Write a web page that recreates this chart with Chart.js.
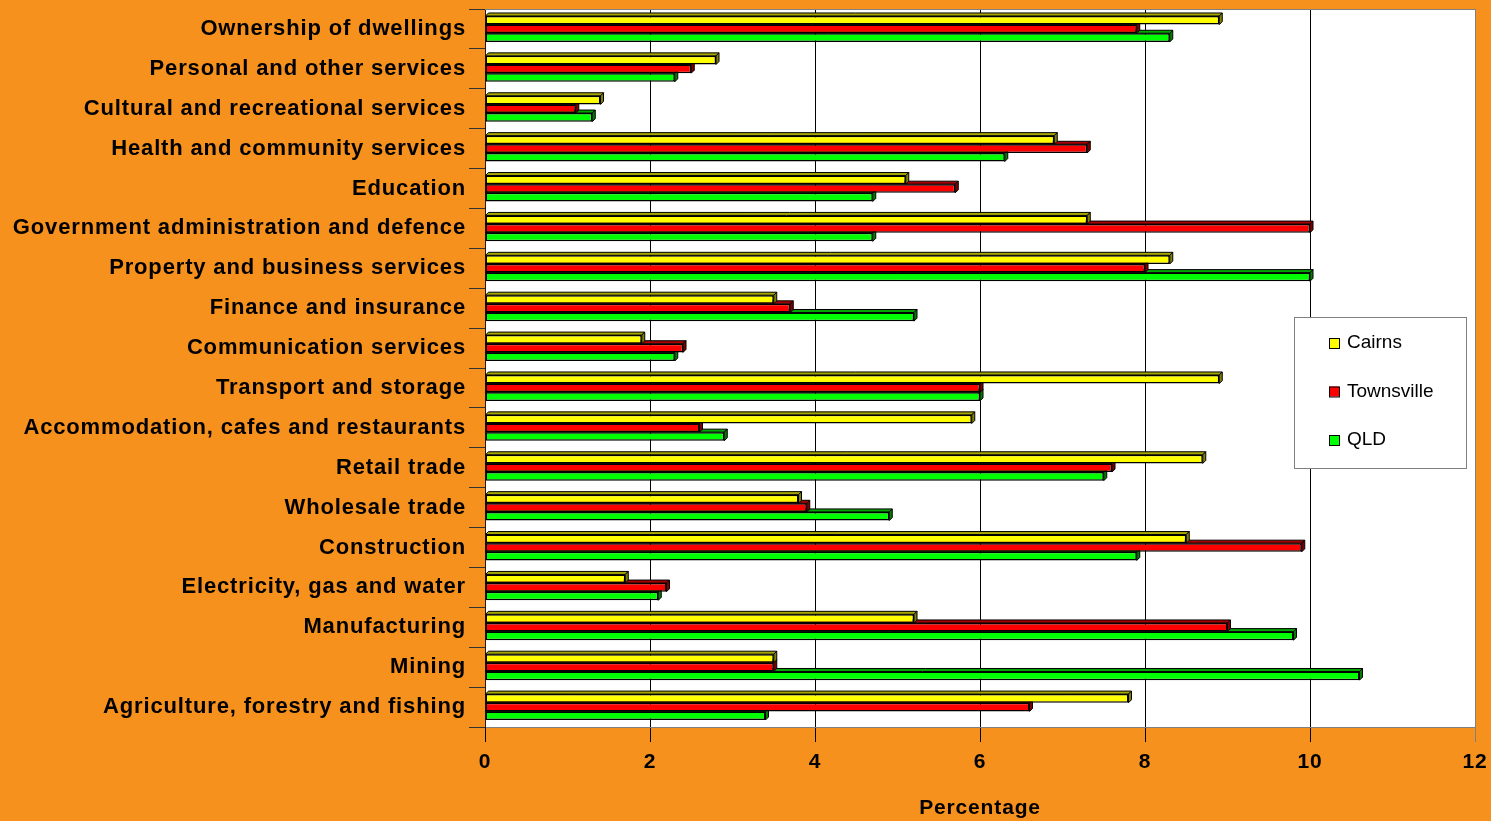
<!doctype html>
<html>
<head>
<meta charset="utf-8">
<title>Employment by industry</title>
<script src="https://cdn.jsdelivr.net/npm/chart.js"></script>
<style>
html,body{margin:0;padding:0;background:#F7911D;overflow:hidden}
#wrap{width:1491px;height:821px}
</style>
</head>
<body>
<div id="wrap"><canvas id="chart" width="1491" height="821"></canvas></div>
<script>
// industries, top to bottom as shown
const categories = [
    'Ownership of dwellings',
    'Personal and other services',
    'Cultural and recreational services',
    'Health and community services',
    'Education',
    'Government administration and defence',
    'Property and business services',
    'Finance and insurance',
    'Communication services',
    'Transport and storage',
    'Accommodation, cafes and restaurants',
    'Retail trade',
    'Wholesale trade',
    'Construction',
    'Electricity, gas and water',
    'Manufacturing',
    'Mining',
    'Agriculture, forestry and fishing'
];
const cairns     = [8.9, 2.8, 1.4, 6.9, 5.1, 7.3, 8.3, 3.5, 1.9, 8.9, 5.9, 8.7, 3.8, 8.5, 1.7, 5.2, 3.5, 7.8];
const townsville = [7.9, 2.5, 1.1, 7.3, 5.7, 10.0, 8.0, 3.7, 2.4, 6.0, 2.6, 7.6, 3.9, 9.9, 2.2, 9.0, 3.5, 6.6];
const qld        = [8.3, 2.3, 1.3, 6.3, 4.7, 4.7, 10.0, 5.2, 2.3, 6.0, 2.9, 7.5, 4.9, 7.9, 2.1, 9.8, 10.6, 3.4];
const xTicks = [0, 2, 4, 6, 8, 10, 12];

Chart.defaults.font.family = "'Liberation Sans', Arial, sans-serif";
Chart.defaults.color = '#000';

const depth = 3;

// paint the white plot area
const plotBg = {
    id: 'plotBg',
    beforeDraw(chart) {
        const { ctx, chartArea: a } = chart;
        ctx.letterSpacing = '0.85px';
        ctx.save();
        ctx.fillStyle = '#fff';
        ctx.fillRect(a.left, a.top, a.right - a.left, a.bottom - a.top);
        ctx.restore();
    },
    afterDatasetsDraw(chart) {
        const { ctx, chartArea: a } = chart;
        ctx.save();
        ctx.strokeStyle = '#808080';
        ctx.lineWidth = 1;
        ctx.beginPath();
        ctx.moveTo(a.left, a.top + 0.5);
        ctx.lineTo(a.right, a.top + 0.5);
        ctx.stroke();
        ctx.restore();
    }
};

// top and side faces for the 3-D look
const bar3d = {
    id: 'bar3d',
    beforeDatasetDraw(chart, args) {
        const ds = chart.data.datasets[args.index];
        const ctx = chart.ctx;
        ctx.save();
        ctx.lineWidth = 1;
        ctx.strokeStyle = '#000';
        args.meta.data.forEach(bar => {
            const { x, y, base, height } = bar.getProps(['x', 'y', 'base', 'height'], true);
            const top = y - height / 2, bottom = y + height / 2;
            ctx.beginPath();
            ctx.moveTo(base, top);
            ctx.lineTo(base + depth, top - depth);
            ctx.lineTo(x + depth, top - depth);
            ctx.lineTo(x, top);
            ctx.closePath();
            ctx.fillStyle = ds.topColor;
            ctx.fill();
            ctx.stroke();
            ctx.beginPath();
            ctx.moveTo(x, top);
            ctx.lineTo(x + depth, top - depth);
            ctx.lineTo(x + depth, bottom - depth);
            ctx.lineTo(x, bottom);
            ctx.closePath();
            ctx.fillStyle = ds.sideColor;
            ctx.fill();
            ctx.stroke();
        });
        ctx.restore();
    }
};

// boxed legend inside the plot, right side
const boxLegend = {
    id: 'boxLegend',
    afterDraw(chart) {
        const { ctx, chartArea: a } = chart;
        const bx = a.right - 181, by = 317, bw = 172, bh = 151;
        ctx.save();
        ctx.letterSpacing = '0px';
        ctx.fillStyle = '#fff';
        ctx.fillRect(bx, by, bw, bh);
        ctx.strokeStyle = '#808080';
        ctx.lineWidth = 1;
        ctx.strokeRect(bx + 0.5, by + 0.5, bw, bh);
        ctx.font = "19px 'Liberation Sans', Arial, sans-serif";
        ctx.textBaseline = 'middle';
        chart.data.datasets.forEach((ds, i) => {
            const cy = by + 26 + i * 48.5;
            ctx.fillStyle = ds.backgroundColor;
            ctx.fillRect(bx + 35, cy - 5, 10, 10);
            ctx.strokeStyle = '#000';
            ctx.strokeRect(bx + 35.5, cy - 4.5, 10, 10);
            ctx.fillStyle = '#000';
            ctx.fillText(ds.label, bx + 53, cy);
        });
        ctx.restore();
    }
};

new Chart(document.getElementById('chart'), {
    type: 'bar',
    data: {
        labels: categories,
        datasets: [
            { label: 'Cairns', data: cairns, backgroundColor: '#FFFF00', topColor: '#A6A600', sideColor: '#808000' },
            { label: 'Townsville', data: townsville, backgroundColor: '#FF0000', topColor: '#A60000', sideColor: '#800000' },
            { label: 'QLD', data: qld, backgroundColor: '#00FF00', topColor: '#00A600', sideColor: '#008000' }
        ].map(d => Object.assign(d, {
            borderColor: '#000',
            borderWidth: 1.5,
            borderSkipped: false,
            categoryPercentage: 0.65,
            barPercentage: 1.0
        }))
    },
    options: {
        indexAxis: 'y',
        responsive: false,
        animation: false,
        layout: { padding: { top: 9, right: 16, left: 0, bottom: 0 } },
        plugins: {
            legend: { display: false },
            tooltip: { enabled: false }
        },
        scales: {
            x: {
                min: 0,
                max: 12,
                afterBuildTicks: s => { s.ticks = xTicks.map(v => ({ value: v })); },
                afterFit: s => { s.height = 94; s.paddingLeft = 0; s.paddingRight = 0; },
                grid: {
                    color: ctx => (ctx.tick && ctx.tick.value === 12 ? '#808080' : '#000'),
                    lineWidth: 1,
                    tickLength: 15
                },
                border: { color: '#808080' },
                ticks: { font: { size: 21, weight: 'bold' }, padding: 8 },
                title: {
                    display: true,
                    text: 'Percentage',
                    font: { size: 21, weight: 'bold' },
                    padding: { top: 0, bottom: 0 }
                }
            },
            y: {
                afterFit: s => { s.width = 485; s.paddingTop = 0; s.paddingBottom = 0; },
                grid: { drawOnChartArea: false, tickLength: 16, color: '#333' },
                border: { color: '#2b1a00' },
                ticks: { font: { size: 22, weight: 'bold' }, padding: 3, autoSkip: false }
            }
        }
    },
    plugins: [plotBg, bar3d, boxLegend]
});
</script>
</body>
</html>
